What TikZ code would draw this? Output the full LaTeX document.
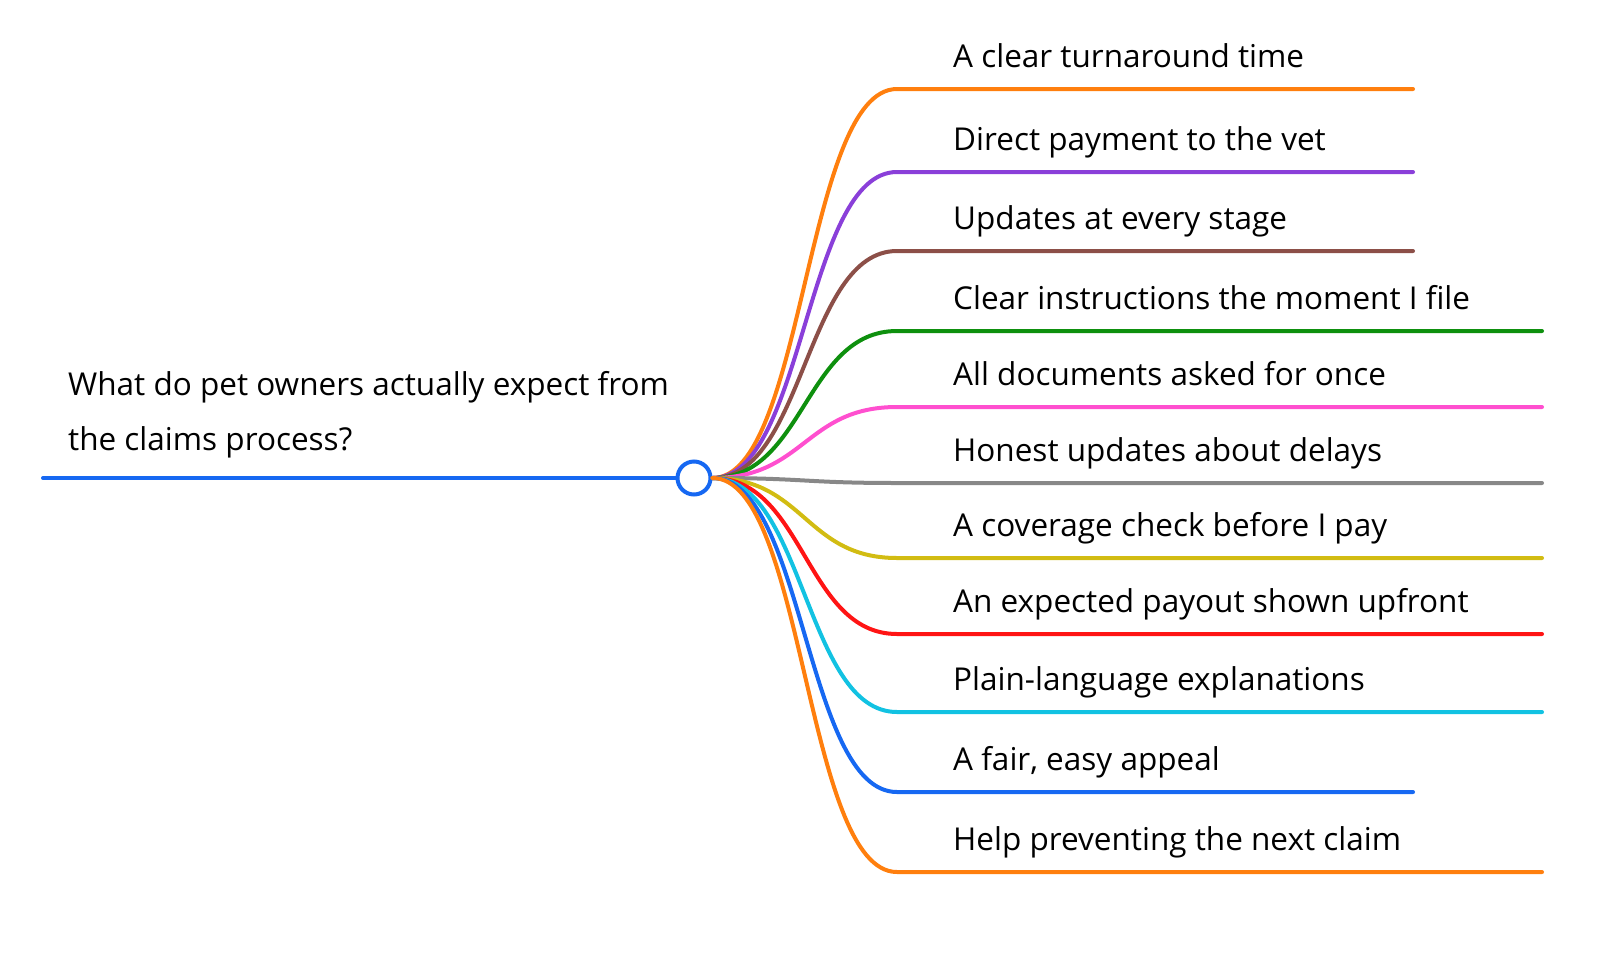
\documentclass[tikz,border=0pt]{standalone}
\usepackage{fontspec}
\setmainfont{Open Sans}
\usetikzlibrary{positioning}
\definecolor{mmblue}{HTML}{1668F2}
\definecolor{mmorange}{HTML}{FF7F0E}
\definecolor{mmpurple}{HTML}{8A3FD9}
\definecolor{mmbrown}{HTML}{8C4F48}
\definecolor{mmgreen}{HTML}{0E900E}
\definecolor{mmpink}{HTML}{FF4FCF}
\definecolor{mmgray}{HTML}{888888}
\definecolor{mmolive}{HTML}{D2BC12}
\definecolor{mmred}{HTML}{FF1414}
\definecolor{mmcyan}{HTML}{12C2E2}

\begin{document}
\begin{tikzpicture}[
  x=1pt, y=-1pt,
  every node/.style={font=\fontsize{31.5}{36}\selectfont, text=black},
  branch/.style={line width=4pt, line cap=round},
  hubdot/.style={circle, draw=mmblue, fill=white, line width=4pt,
    minimum size=33pt, inner sep=0pt},
  lbl/.style={anchor=base west, inner sep=0pt}
]
\useasboundingbox (0,0) rectangle (1612,975);

% The central question.
\node[hubdot] (hub) at (694,478) {};
\coordinate (rootend) at (43,478);
\draw[branch, mmblue] (rootend) -- (hub.west);
\node[lbl, align=left, font=\fontsize{31.5}{55}\selectfont] (root) at (68,450)
  {What do pet owners actually expect from\\the claims process?};

% Branches: index, y, end x, colour, text.
\foreach \i/\y/\xe/\c/\t in {
  1/89/1413/mmorange/{A clear turnaround time},
  2/172/1413/mmpurple/{Direct payment to the vet},
  3/251/1413/mmbrown/{Updates at every stage},
  4/331/1542/mmgreen/{Clear instructions the moment I file},
  5/407/1542/mmpink/{All documents asked for once},
  6/483/1542/mmgray/{Honest updates about delays},
  7/558/1542/mmolive/{A coverage check before I pay},
  8/634/1542/mmred/{An expected payout shown upfront},
  9/712/1542/mmcyan/{Plain-language explanations},
  10/792/1413/mmblue/{A fair, easy appeal},
  11/872/1542/mmorange/{Help preventing the next claim}}
{
  \coordinate (k\i) at (897,\y);
  \coordinate (e\i) at (\xe,\y);
  \draw[branch, \c] (hub.east) .. controls +(92,0) and +(-92,0) .. (k\i) -- (e\i);
  \node[lbl] (l\i) at (953,\y-22) {\t};
}
\end{tikzpicture}
\end{document}
